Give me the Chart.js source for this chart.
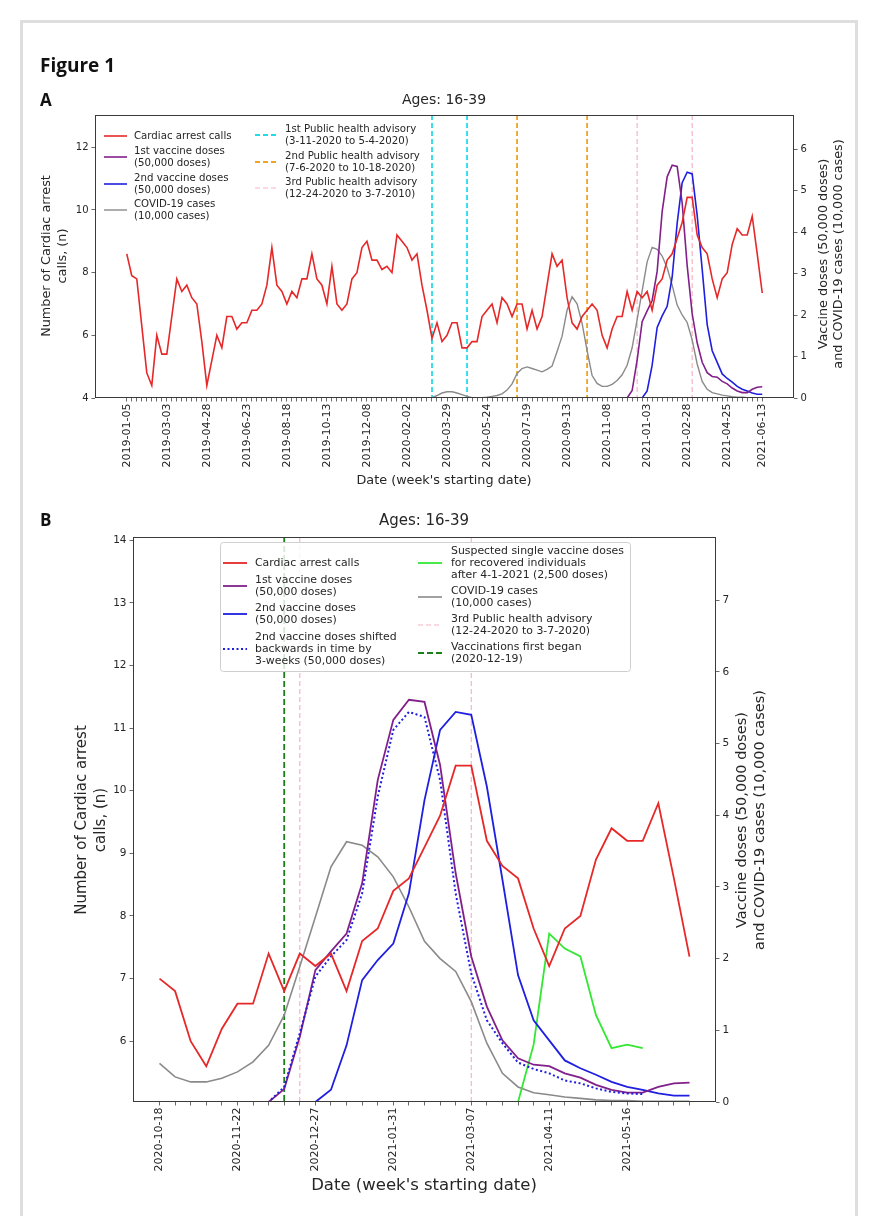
<!DOCTYPE html>
<html>
<head>
<meta charset="utf-8">
<script src="https://cdn.jsdelivr.net/npm/chart.js@4.4.1/dist/chart.umd.min.js"></script>
<style>
    html, body { margin: 0; padding: 0; background: #fff; }
    body { width: 880px; height: 1216px; position: relative; overflow: hidden; }
    .card { position: absolute; left: 20px; top: 20px; width: 832px; height: 1220px; border: 3px solid #dedede; border-bottom: none; }
    .fig { position: absolute; left: 40px; top: 52px; font: 700 19px "Open Sans", "DejaVu Sans", sans-serif; color: #111; z-index: 2; }
    .panel { position: absolute; left: 40px; font: 700 17px "Open Sans", "DejaVu Sans", sans-serif; color: #111; z-index: 2; }
    canvas { position: absolute; left: 0; z-index: 1; }
</style>
</head>
<body>
<div class="card"></div>
<canvas id="chartA" width="880" height="500" style="top:0;width:880px;height:500px"></canvas>
<canvas id="chartB" width="880" height="716" style="top:500px;width:880px;height:716px"></canvas>
<div class="fig">Figure 1</div>
<div class="panel" style="top:88px">A</div>
<div class="panel" style="top:508px">B</div>

<script>
// weekly values, panel A starts 2019-01-05 (128 weeks), panel B starts 2020-10-18 (week 93)
const cardiacCalls = [
    8.6, 7.9, 7.8, 6.3, 4.8, 4.4, 6.0, 5.4, 5.4, 6.6,
    7.8, 7.4, 7.6, 7.2, 7.0, 5.8, 4.4, 5.2, 6.0, 5.6,
    6.6, 6.6, 6.2, 6.4, 6.4, 6.8, 6.8, 7.0, 7.6, 8.8,
    7.6, 7.4, 7.0, 7.4, 7.2, 7.8, 7.8, 8.6, 7.8, 7.6,
    7.0, 8.2, 7.0, 6.8, 7.0, 7.8, 8.0, 8.8, 9.0, 8.4,
    8.4, 8.1, 8.2, 8.0, 9.2, 9.0, 8.8, 8.4, 8.6, 7.6,
    6.8, 5.9, 6.4, 5.8, 6.0, 6.4, 6.4, 5.6, 5.6, 5.8,
    5.8, 6.6, 6.8, 7.0, 6.4, 7.2, 7.0, 6.6, 7.0, 7.0,
    6.2, 6.8, 6.2, 6.6, 7.6, 8.6, 8.2, 8.4, 7.2, 6.4,
    6.2, 6.6, 6.8, 7.0, 6.8, 6.0, 5.6, 6.2, 6.6, 6.6,
    7.4, 6.8, 7.4, 7.2, 7.4, 6.8, 7.6, 7.8, 8.4, 8.6,
    9.1, 9.6, 10.4, 10.4, 9.2, 8.8, 8.6, 7.8, 7.2, 7.8,
    8.0, 8.9, 9.4, 9.2, 9.2, 9.8, 8.6, 7.35
];

const covidCases = [
    0, 0, 0, 0, 0, 0, 0, 0, 0, 0,
    0, 0, 0, 0, 0, 0, 0, 0, 0, 0,
    0, 0, 0, 0, 0, 0, 0, 0, 0, 0,
    0, 0, 0, 0, 0, 0, 0, 0, 0, 0,
    0, 0, 0, 0, 0, 0, 0, 0, 0, 0,
    0, 0, 0, 0, 0, 0, 0, 0, 0, 0,
    0, 0.01, 0.06, 0.12, 0.15, 0.15, 0.12, 0.08, 0.04, 0.01,
    0.0, 0.01, 0.02, 0.04, 0.06, 0.1, 0.19, 0.34, 0.59, 0.71,
    0.75, 0.71, 0.67, 0.63, 0.69, 0.77, 1.12, 1.49, 2.12, 2.44,
    2.27, 1.80, 1.14, 0.54, 0.35, 0.28, 0.28, 0.33, 0.42, 0.56,
    0.79, 1.21, 1.89, 2.58, 3.28, 3.63, 3.58, 3.42, 3.14, 2.72,
    2.24, 2.00, 1.82, 1.40, 0.82, 0.40, 0.21, 0.13, 0.10, 0.07,
    0.05, 0.03, 0.02, 0.02, 0.01, 0.01, 0.01, 0.01
];

const firstDoses = [
    0, 0, 0, 0, 0, 0, 0, 0, 0, 0,
    0, 0, 0, 0, 0, 0, 0, 0, 0, 0,
    0, 0, 0, 0, 0, 0, 0, 0, 0, 0,
    0, 0, 0, 0, 0, 0, 0, 0, 0, 0,
    0, 0, 0, 0, 0, 0, 0, 0, 0, 0,
    0, 0, 0, 0, 0, 0, 0, 0, 0, 0,
    0, 0, 0, 0, 0, 0, 0, 0, 0, 0,
    0, 0, 0, 0, 0, 0, 0, 0, 0, 0,
    0, 0, 0, 0, 0, 0, 0, 0, 0, 0,
    0, 0, 0, 0, 0, 0, 0, 0, 0, 0,
    0, 0.18, 0.91, 1.84, 2.10, 2.35, 3.05, 4.49, 5.33, 5.61,
    5.58, 4.70, 3.19, 2.03, 1.33, 0.86, 0.61, 0.52, 0.50, 0.40,
    0.34, 0.24, 0.17, 0.13, 0.13, 0.21, 0.26, 0.27
];

const secondDoses = [
    0, 0, 0, 0, 0, 0, 0, 0, 0, 0,
    0, 0, 0, 0, 0, 0, 0, 0, 0, 0,
    0, 0, 0, 0, 0, 0, 0, 0, 0, 0,
    0, 0, 0, 0, 0, 0, 0, 0, 0, 0,
    0, 0, 0, 0, 0, 0, 0, 0, 0, 0,
    0, 0, 0, 0, 0, 0, 0, 0, 0, 0,
    0, 0, 0, 0, 0, 0, 0, 0, 0, 0,
    0, 0, 0, 0, 0, 0, 0, 0, 0, 0,
    0, 0, 0, 0, 0, 0, 0, 0, 0, 0,
    0, 0, 0, 0, 0, 0, 0, 0, 0, 0,
    0, 0, 0, 0, 0.17, 0.79, 1.70, 1.98, 2.21, 2.91,
    4.21, 5.19, 5.44, 5.40, 4.40, 3.10, 1.77, 1.14, 0.86, 0.58,
    0.47, 0.38, 0.28, 0.21, 0.17, 0.12, 0.09, 0.09
];

// panel B only (35 weeks from 2020-10-18)
const secondDosesShifted = [
    0, 0, 0, 0, 0, 0, 0, 0, 0.21, 0.96,
    1.75, 2.03, 2.26, 2.91, 4.26, 5.19, 5.44, 5.37, 4.49, 2.91,
    1.79, 1.14, 0.82, 0.55, 0.46, 0.40, 0.30, 0.26, 0.19, 0.14,
    0.12, 0.11, null, null, null
];

const singleDosesRecovered = [
    null, null, null, null, null, null, null, null, null, null,
    null, null, null, null, null, null, null, null, null, null,
    null, null, null, 0, 0.80, 2.35, 2.14, 2.03, 1.21, 0.75,
    0.80, 0.75, null, null, null
];

const panelBStart = 93;

// advisory lines (week index in panel A)
const advisory1 = [61, 68];
const advisory2 = [78, 92];
const advisory3 = [102, 113];
const vaccinationStart = 101;

const tickWeeksA = [0, 8, 16, 24, 32, 40, 48, 56, 64, 72, 80, 88, 96, 104, 112, 120, 127];
const tickLabelsA = ['2019-01-05', '2019-03-03', '2019-04-28', '2019-06-23', '2019-08-18', '2019-10-13',
    '2019-12-08', '2020-02-02', '2020-03-29', '2020-05-24', '2020-07-19', '2020-09-13', '2020-11-08',
    '2021-01-03', '2021-02-28', '2021-04-25', '2021-06-13'];
const tickWeeksB = [0, 5, 10, 15, 20, 25, 30];
const tickLabelsB = ['2020-10-18', '2020-11-22', '2020-12-27', '2021-01-31', '2021-03-07', '2021-04-11', '2021-05-16'];

const leftTicksA = [4, 6, 8, 10, 12];
const rightTicksA = [0, 1, 2, 3, 4, 5, 6];
const leftTicksB = [6, 7, 8, 9, 10, 11, 12, 13, 14];
const rightTicksB = [0, 1, 2, 3, 4, 5, 6, 7];

const C = {
    red: '#e62828', purple: '#82208a', blue: '#1f1fe0', grey: '#8a8a8a', lime: '#33e833',
    cyan: '#22dde8', orange: '#eea520', pink: '#f4b5c3', green: '#1a7f1a'
};
const FONT = 'DejaVu Sans';
const TEXT = '#262626';

Chart.defaults.font.family = FONT;
Chart.defaults.color = TEXT;

function line(data, color, width, yAxisID, dash) {
    return {
        data: data.map((v, i) => ({ x: i, y: v })),
        borderColor: color,
        borderWidth: width,
        borderDash: dash || [],
        pointRadius: 0,
        tension: 0,
        fill: false,
        spanGaps: false,
        yAxisID: yAxisID
    };
}

function xAxis(count, tickWeeks, tickLabels, height, size) {
    const all = [];
    for (let i = 0; i < count; i++) all.push(i);
    const margin = (count - 1) * 0.05;
    return {
        type: 'linear', bounds: 'data',
        min: -margin, max: count - 1 + margin,
        afterBuildTicks: s => { s.ticks = all.map(v => ({ value: v })); },
        afterFit: s => { s.height = height; },
        grid: { display: true, drawOnChartArea: false, drawTicks: true, tickLength: 3.5, color: '#444', lineWidth: 0.8 },
        border: { display: false },
        ticks: {
            autoSkip: false, minRotation: 90, maxRotation: 90, padding: 2,
            font: { size: size }, color: TEXT,
            callback: v => {
                const k = tickWeeks.indexOf(v);
                return k >= 0 ? tickLabels[k] : '';
            }
        }
    };
}

function yAxis(pos, min, max, tickVals, width, size) {
    return {
        type: 'linear', position: pos, min: min, max: max,
        afterBuildTicks: s => { s.ticks = tickVals.map(v => ({ value: v })); },
        afterFit: s => { s.width = width; },
        grid: { display: true, drawOnChartArea: false, drawTicks: true, tickLength: 3.5, color: '#444', lineWidth: 0.8 },
        border: { display: false },
        ticks: { font: { size: size }, color: TEXT, padding: 3 }
    };
}

const decor = {
    id: 'decor',
    beforeDatasetsDraw(chart, args, o) {
        const { ctx, chartArea: a, scales } = chart;
        ctx.save();
        ctx.beginPath();
        ctx.rect(a.left, a.top, a.right - a.left, a.bottom - a.top);
        ctx.clip();
        o.vlines.forEach(v => {
            const x = scales.x.getPixelForValue(v.at);
            ctx.strokeStyle = v.color;
            ctx.lineWidth = v.width;
            ctx.setLineDash(v.dash);
            ctx.beginPath();
            ctx.moveTo(x, a.top);
            ctx.lineTo(x, a.bottom);
            ctx.stroke();
        });
        ctx.restore();
    },
    afterDraw(chart, args, o) {
        const { ctx, chartArea: a } = chart;
        ctx.save();
        // frame
        ctx.strokeStyle = '#3a3a3a';
        ctx.lineWidth = 1;
        ctx.strokeRect(a.left + 0.5, a.top + 0.5, a.right - a.left - 1, a.bottom - a.top - 1);

        ctx.translate(0, -o.offsetY);
        ctx.fillStyle = TEXT;
        o.texts.forEach(t => {
            ctx.save();
            ctx.font = t.size + 'px "' + FONT + '"';
            ctx.textAlign = 'center';
            ctx.textBaseline = 'middle';
            t.lines.forEach((s, k) => {
                ctx.save();
                if (t.rot) {
                    ctx.translate(t.x[k], t.y);
                    ctx.rotate(-Math.PI / 2);
                    ctx.fillText(s, 0, 0);
                } else {
                    ctx.fillText(s, t.x[k], t.y + k * t.size * 1.2);
                }
                ctx.restore();
            });
            ctx.restore();
        });

        const lg = o.legend;
        if (lg.box) {
            const b = lg.box;
            ctx.save();
            ctx.fillStyle = 'rgba(255,255,255,0.82)';
            ctx.strokeStyle = '#cfcfcf';
            ctx.lineWidth = 1;
            ctx.beginPath();
            ctx.roundRect(b.x + 0.5, b.y + 0.5, b.w, b.h, 3);
            ctx.fill();
            ctx.stroke();
            ctx.restore();
        }
        ctx.font = lg.size + 'px "' + FONT + '"';
        ctx.textAlign = 'left';
        ctx.textBaseline = 'middle';
        lg.items.forEach(it => {
            ctx.save();
            ctx.strokeStyle = it.color;
            ctx.lineWidth = it.width;
            ctx.setLineDash(it.dash || []);
            ctx.beginPath();
            ctx.moveTo(it.sx, it.sy);
            ctx.lineTo(it.sx + lg.sampleLen, it.sy);
            ctx.stroke();
            ctx.restore();
            ctx.fillStyle = TEXT;
            it.lines.forEach((s, k) => ctx.fillText(s, it.tx, it.ty + k * lg.gap));
        });
        ctx.restore();
    }
};

// ---------- panel A ----------
new Chart(document.getElementById('chartA'), {
    type: 'line',
    data: {
        datasets: [
            line(cardiacCalls, C.red, 1.6, 'y'),
            line(firstDoses, C.purple, 1.6, 'y2'),
            line(secondDoses, C.blue, 1.6, 'y2'),
            line(covidCases, C.grey, 1.4, 'y2')
        ]
    },
    options: {
        responsive: false,
        animation: false,
        layout: { padding: { top: 115, left: 0, right: 0, bottom: 0 } },
        plugins: {
            legend: { display: false },
            tooltip: { enabled: false },
            decor: {
                offsetY: 0,
                vlines: [
                    ...advisory1.map(w => ({ at: w, color: C.cyan, width: 1.8, dash: [5, 3] })),
                    ...advisory2.map(w => ({ at: w, color: C.orange, width: 1.8, dash: [5, 3] })),
                    ...advisory3.map(w => ({ at: w, color: C.pink, width: 1.2, dash: [5, 3] }))
                ],
                texts: [
                    { lines: ['Ages: 16-39'], x: [444], y: 100, size: 14 },
                    { lines: ["Date (week's starting date)"], x: [444], y: 481, size: 12.8 },
                    { lines: ['Number of Cardiac arrest', 'calls, (n)'], x: [47, 63], y: 256, size: 12.8, rot: true },
                    { lines: ['Vaccine doses (50,000 doses)', 'and COVID-19 cases (10,000 cases)'], x: [824, 839], y: 254, size: 12.8, rot: true }
                ],
                legend: {
                    size: 10.2, gap: 12, sampleLen: 23,
                    items: [
                        { color: C.red, width: 1.6, sx: 104, sy: 136, tx: 134, ty: 136, lines: ['Cardiac arrest calls'] },
                        { color: C.purple, width: 1.6, sx: 104, sy: 157, tx: 134, ty: 151, lines: ['1st vaccine doses', '(50,000 doses)'] },
                        { color: C.blue, width: 1.6, sx: 104, sy: 184, tx: 134, ty: 178, lines: ['2nd vaccine doses', '(50,000 doses)'] },
                        { color: C.grey, width: 1.4, sx: 104, sy: 210, tx: 134, ty: 204, lines: ['COVID-19 cases', '(10,000 cases)'] },
                        { color: C.cyan, width: 1.8, dash: [5, 3], sx: 255, sy: 135, tx: 285, ty: 129, lines: ['1st Public health advisory', '(3-11-2020 to 5-4-2020)'] },
                        { color: C.orange, width: 1.8, dash: [5, 3], sx: 255, sy: 162, tx: 285, ty: 156, lines: ['2nd Public health advisory', '(7-6-2020 to 10-18-2020)'] },
                        { color: C.pink, width: 1.2, dash: [5, 3], sx: 255, sy: 188, tx: 285, ty: 182, lines: ['3rd Public health advisory', '(12-24-2020 to 3-7-2010)'] }
                    ]
                }
            }
        },
        scales: {
            x: xAxis(cardiacCalls.length, tickWeeksA, tickLabelsA, 102, 11),
            y: yAxis('left', 4, 13.03, leftTicksA, 95, 10),
            y2: yAxis('right', 0, 6.82, rightTicksA, 86, 10)
        }
    },
    plugins: [decor]
});

// ---------- panel B ----------
new Chart(document.getElementById('chartB'), {
    type: 'line',
    data: {
        datasets: [
            line(cardiacCalls.slice(panelBStart), C.red, 1.8, 'y'),
            line(secondDosesShifted, C.blue, 2, 'y2', [2, 2.5]),
            line(firstDoses.slice(panelBStart), C.purple, 1.8, 'y2'),
            line(secondDoses.slice(panelBStart), C.blue, 1.8, 'y2'),
            line(singleDosesRecovered, C.lime, 1.8, 'y2'),
            line(covidCases.slice(panelBStart), C.grey, 1.6, 'y2')
        ]
    },
    options: {
        responsive: false,
        animation: false,
        layout: { padding: { top: 37, left: 0, right: 0, bottom: 0 } },
        plugins: {
            legend: { display: false },
            tooltip: { enabled: false },
            decor: {
                offsetY: 500,
                vlines: [
                    { at: vaccinationStart - panelBStart, color: C.green, width: 1.8, dash: [6, 3] },
                    ...advisory3.map(w => ({ at: w - panelBStart, color: C.pink, width: 1.2, dash: [5, 3] }))
                ],
                texts: [
                    { lines: ['Ages: 16-39'], x: [424], y: 521, size: 15 },
                    { lines: ["Date (week's starting date)"], x: [424], y: 1186, size: 16.5 },
                    { lines: ['Number of Cardiac arrest', 'calls, (n)'], x: [82, 101], y: 820, size: 15, rot: true },
                    { lines: ['Vaccine doses (50,000 doses)', 'and COVID-19 cases (10,000 cases)'], x: [742, 760], y: 820, size: 14.5, rot: true }
                ],
                legend: {
                    size: 10.9, gap: 12, sampleLen: 24,
                    box: { x: 220, y: 542, w: 410, h: 129 },
                    items: [
                        { color: C.red, width: 1.8, sx: 223, sy: 563, tx: 255, ty: 563, lines: ['Cardiac arrest calls'] },
                        { color: C.purple, width: 1.8, sx: 223, sy: 586, tx: 255, ty: 580, lines: ['1st vaccine doses', '(50,000 doses)'] },
                        { color: C.blue, width: 1.8, sx: 223, sy: 614, tx: 255, ty: 608, lines: ['2nd vaccine doses', '(50,000 doses)'] },
                        { color: C.blue, width: 2, dash: [2, 2.5], sx: 223, sy: 649, tx: 255, ty: 637, lines: ['2nd vaccine doses shifted', 'backwards in time by', '3-weeks (50,000 doses)'] },
                        { color: C.lime, width: 1.8, sx: 418, sy: 563, tx: 451, ty: 551, lines: ['Suspected single vaccine doses', 'for recovered individuals', 'after 4-1-2021 (2,500 doses)'] },
                        { color: C.grey, width: 1.6, sx: 418, sy: 597, tx: 451, ty: 591, lines: ['COVID-19 cases', '(10,000 cases)'] },
                        { color: C.pink, width: 1.2, dash: [5, 3], sx: 418, sy: 625, tx: 451, ty: 619, lines: ['3rd Public health advisory', '(12-24-2020 to 3-7-2020)'] },
                        { color: C.green, width: 1.8, dash: [6, 3], sx: 418, sy: 653, tx: 451, ty: 647, lines: ['Vaccinations first began', '(2020-12-19)'] }
                    ]
                }
            }
        },
        scales: {
            x: xAxis(cardiacCalls.length - panelBStart, tickWeeksB, tickLabelsB, 114, 11),
            y: yAxis('left', 5.03, 14.05, leftTicksB, 133, 10.5),
            y2: yAxis('right', 0, 7.88, rightTicksB, 164, 10.5)
        }
    },
    plugins: [decor]
});
</script>
</body>
</html>
